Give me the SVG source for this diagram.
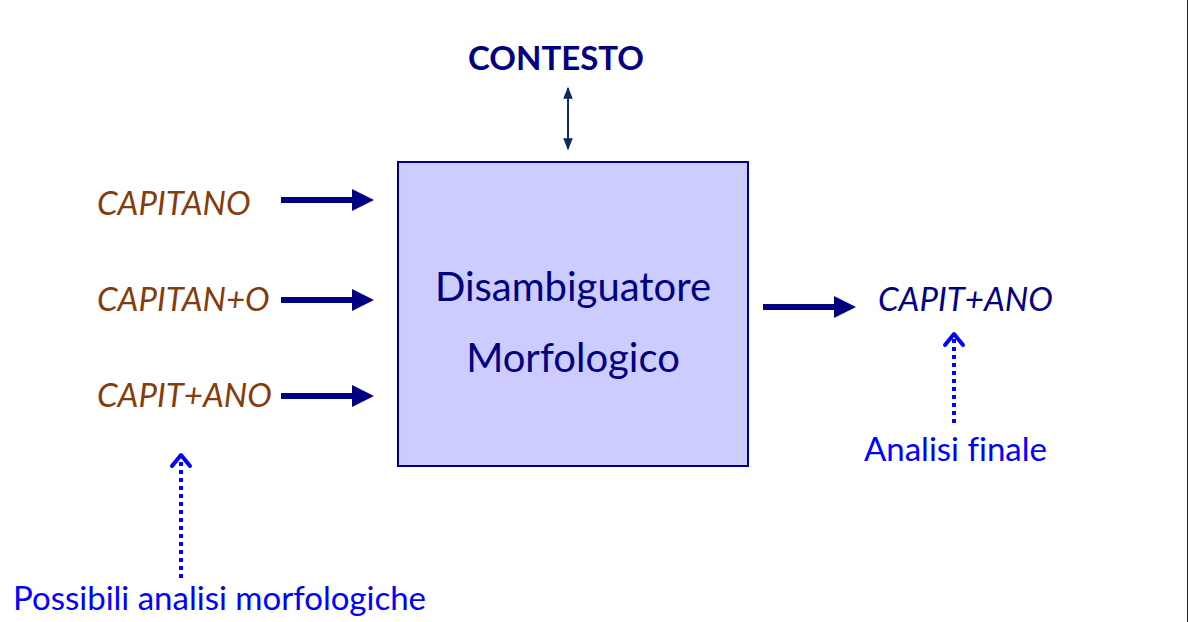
<svg xmlns="http://www.w3.org/2000/svg" width="1188" height="622" viewBox="0 0 1188 622">
<defs>
<style>
text{font-family:Lato,"Open Sans","Liberation Sans",sans-serif;font-variant-ligatures:none}
.in{font-style:italic;font-size:33px;fill:#843c0c}
.out{font-style:italic;font-size:33px;fill:#000080}
.note{font-size:33px;fill:#0000ff}
.box{fill:#ccccff;stroke:#000080;stroke-width:2}
.dot{stroke:#0000ff;stroke-width:4;stroke-dasharray:4 4;fill:none}
.chev{stroke:#0000ff;stroke-width:4;fill:none;stroke-linecap:round;stroke-linejoin:round}
</style>
<marker id="bi" viewBox="0 0 10 10" refX="9" refY="5" markerWidth="6" markerHeight="6" orient="auto-start-reverse"><path d="M0 1 L10 5 L0 9 Z" fill="#0d2a5c"/></marker>
</defs>
<rect width="1188" height="622" fill="#ffffff"/>
<line x1="1187.5" y1="0" x2="1187.5" y2="622" stroke="#222" stroke-width="1"/>
<g id="contesto"><text x="556" y="70" text-anchor="middle" font-size="33" font-weight="bold" fill="#000080">CONTESTO</text></g>
<g id="disambiguatore">
<rect class="box" x="398" y="162" width="350" height="304"/>
<text x="573" y="301" text-anchor="middle" font-size="40" fill="#000080">Disambiguatore</text>
<text x="573" y="372" text-anchor="middle" font-size="40" fill="#000080">Morfologico</text>
</g>
<g id="in1"><text class="in" x="97" y="215">CAPITANO</text></g>
<g id="in2"><text class="in" x="97" y="311">CAPITAN+O</text></g>
<g id="in3"><text class="in" x="97" y="407">CAPIT+ANO</text></g>
<g id="out"><text class="out" x="878" y="311">CAPIT+ANO</text></g>
<g id="finale"><text class="note" x="864" y="461">Analisi finale</text></g>
<g id="possibili"><text class="note" x="13" y="610">Possibili analisi morfologiche</text></g>
<g id="connectors">
<line x1="568" y1="88" x2="568" y2="149" stroke="#0d2a5c" stroke-width="2" marker-start="url(#bi)" marker-end="url(#bi)"/>
<g fill="#000080">
<rect x="281" y="197" width="72" height="6"/><path d="M352 189 L374 200 L352 211 Z"/>
<rect x="281" y="297" width="72" height="6"/><path d="M352 289 L374 300 L352 311 Z"/>
<rect x="281" y="393" width="72" height="6"/><path d="M352 385 L374 396 L352 407 Z"/>
<rect x="763" y="304" width="73" height="6"/><path d="M834 296 L856 307 L834 318 Z"/>
</g>
<line class="dot" x1="954" y1="423" x2="954" y2="338"/>
<path class="chev" d="M945 345 L954 334 L963 345"/>
<line class="dot" x1="181" y1="578" x2="181" y2="453"/>
<path class="chev" d="M172 466 L181 455 L190 466"/>
</g>
</svg>
